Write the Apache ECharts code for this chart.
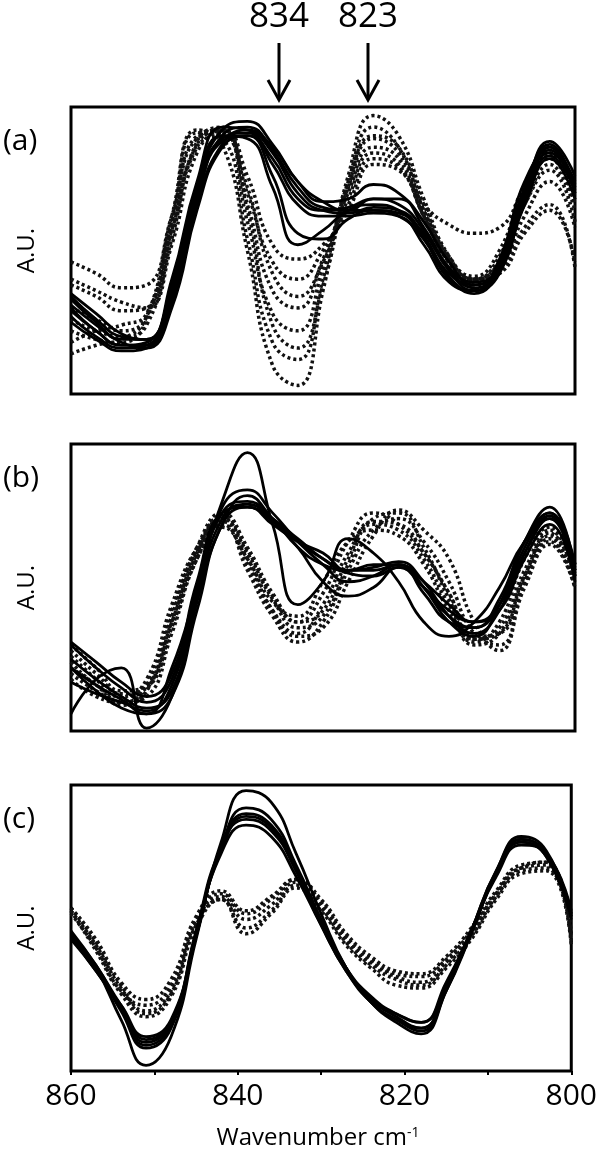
<!DOCTYPE html>
<html>
<head>
<meta charset="utf-8">
<script src="https://cdn.jsdelivr.net/npm/echarts@6/dist/echarts.min.js"></script>
<style>
  html, body { margin: 0; padding: 0; background: #fff; }
  #chart { width: 600px; height: 1150px; }
</style>
</head>
<body>
<div id="chart"></div>
<script>
// wavenumber grid shared by every spectrum (cm-1)
const waves = [860, 857, 854, 851, 848, 845, 842, 839, 836, 833, 830, 827, 824, 821, 818, 815, 812, 809, 806, 803, 800];

// panel (a)
const aSolid = [
  [30, 22, 17, 18, 38, 72, 92, 95, 87, 74, 67, 68, 73, 70, 60, 46, 38, 44, 70, 88, 76],
  [27, 20, 16, 17, 34, 68, 90, 93, 85, 72, 65, 64, 68, 66, 57, 43, 36, 42, 68, 86, 74],
  [33, 25, 19, 19, 40, 74, 93, 92, 84, 70, 64, 63, 65, 64, 55, 41, 35, 44, 72, 87, 72],
  [35, 28, 21, 19, 36, 70, 89, 91, 80, 66, 62, 62, 63, 62, 52, 39, 36, 47, 74, 85, 70],
  [25, 19, 15, 16, 32, 66, 87, 92, 86, 74, 67, 64, 64, 62, 54, 42, 38, 45, 70, 84, 73],
  [31, 24, 18, 16, 30, 64, 86, 90, 76, 56, 54, 61, 64, 63, 56, 44, 39, 44, 67, 83, 71],
  [34, 26, 20, 19, 38, 72, 90, 89, 72, 52, 57, 64, 66, 64, 54, 40, 36, 46, 71, 86, 70],
  [29, 22, 17, 17, 34, 68, 88, 90, 82, 68, 64, 65, 68, 68, 58, 44, 37, 43, 66, 82, 68]
];
const aDotted = [
  [14, 17, 19, 27, 62, 92, 87, 50, 10, 3, 36, 76, 97, 90, 68, 48, 40, 42, 56, 64, 46],
  [22, 19, 18, 26, 60, 91, 89, 54, 18, 12, 40, 74, 93, 86, 64, 46, 38, 42, 58, 66, 44],
  [30, 26, 22, 27, 58, 89, 91, 60, 28, 22, 44, 72, 89, 84, 64, 48, 40, 46, 66, 78, 60],
  [46, 42, 37, 38, 62, 90, 92, 66, 36, 30, 47, 70, 86, 82, 62, 47, 41, 50, 72, 84, 66],
  [38, 34, 29, 30, 57, 87, 92, 70, 46, 40, 50, 66, 82, 79, 66, 59, 56, 58, 72, 84, 68],
  [26, 22, 20, 24, 54, 88, 93, 76, 52, 47, 52, 64, 80, 78, 62, 46, 40, 46, 66, 80, 64],
  [18, 22, 24, 28, 56, 86, 90, 64, 24, 16, 38, 72, 90, 86, 66, 47, 40, 44, 62, 74, 58],
  [40, 36, 32, 30, 52, 84, 92, 72, 42, 34, 46, 68, 84, 80, 62, 46, 40, 48, 70, 82, 66]
];

// panel (b)
const bSolid = [
  [22, 14, 8, 6, 22, 50, 80, 97, 72, 44, 52, 67, 62, 52, 38, 33, 38, 50, 66, 74, 56],
  [6, 18, 22, 1, 12, 45, 72, 82, 74, 64, 58, 56, 58, 58, 48, 38, 36, 46, 66, 76, 58],
  [30, 22, 15, 10, 18, 50, 76, 80, 74, 66, 60, 56, 57, 59, 52, 40, 34, 42, 62, 75, 55],
  [25, 18, 12, 8, 14, 46, 74, 79, 74, 67, 60, 55, 54, 57, 50, 40, 36, 44, 64, 76, 57],
  [22, 16, 11, 6, 12, 42, 72, 78, 73, 64, 52, 47, 50, 57, 50, 42, 38, 44, 62, 74, 54],
  [17, 13, 10, 7, 16, 48, 78, 84, 76, 66, 58, 52, 54, 58, 50, 38, 33, 44, 66, 78, 56],
  [31, 24, 17, 12, 20, 52, 76, 78, 72, 66, 62, 56, 56, 58, 52, 44, 38, 42, 60, 72, 52]
];
const bDotted = [
  [30, 22, 14, 16, 38, 62, 74, 62, 46, 36, 40, 58, 74, 76, 64, 46, 30, 34, 54, 68, 54],
  [26, 18, 10, 12, 34, 60, 72, 58, 42, 34, 44, 62, 72, 70, 60, 44, 32, 36, 56, 70, 56],
  [22, 16, 9, 14, 40, 64, 76, 64, 48, 38, 48, 66, 76, 72, 62, 48, 33, 34, 52, 67, 52],
  [18, 12, 10, 16, 42, 63, 73, 56, 40, 31, 38, 56, 70, 74, 66, 52, 34, 30, 52, 66, 50],
  [28, 20, 13, 15, 36, 60, 71, 60, 45, 40, 52, 66, 70, 68, 58, 42, 31, 38, 60, 71, 58],
  [24, 16, 12, 18, 44, 64, 74, 60, 42, 33, 36, 52, 68, 77, 70, 60, 38, 28, 50, 65, 50],
  [20, 14, 10, 14, 38, 62, 75, 63, 47, 38, 42, 60, 73, 72, 62, 48, 32, 34, 54, 69, 54]
];

// panel (c)
const cSolid = [
  [48, 36, 18, 2, 12, 46, 80, 98, 94, 76, 55, 36, 24, 17, 13, 28, 49, 70, 82, 77, 55],
  [47, 36, 21, 8, 15, 47, 78, 92, 88, 72, 53, 36, 24, 18, 14, 28, 48, 69, 81, 76, 54],
  [46, 35, 22, 10, 17, 48, 78, 90, 86, 71, 52, 36, 25, 19, 15, 29, 48, 69, 80, 75, 54],
  [48, 37, 22, 9, 16, 47, 77, 89, 85, 70, 51, 35, 24, 18, 15, 29, 49, 70, 81, 76, 55],
  [47, 35, 23, 12, 18, 48, 76, 86, 82, 68, 51, 35, 25, 20, 17, 30, 49, 69, 80, 75, 53],
  [49, 37, 23, 11, 17, 49, 78, 88, 84, 70, 52, 36, 26, 20, 17, 31, 49, 68, 79, 76, 56]
];
const cDotted = [
  [57, 45, 30, 21, 28, 52, 61, 53, 58, 66, 58, 46, 38, 33, 31, 38, 48, 62, 71, 72, 46],
  [56, 44, 29, 20, 27, 51, 60, 50, 56, 65, 57, 45, 37, 32, 30, 37, 47, 61, 70, 71, 45],
  [55, 43, 28, 23, 30, 53, 62, 55, 60, 67, 59, 47, 39, 34, 33, 39, 49, 62, 71, 73, 47],
  [56, 42, 27, 19, 26, 50, 60, 48, 55, 64, 56, 44, 36, 30, 29, 36, 46, 60, 69, 70, 44],
  [57, 46, 31, 25, 32, 54, 63, 56, 61, 67, 60, 48, 40, 35, 34, 40, 50, 63, 72, 73, 48]
];

const panelLabels = ['(a)', '(b)', '(c)'];
const peakLabels = ['834', '823'];

const font = '"Open Sans", "Liberation Sans", sans-serif';
const panels = [
  { top: 107, height: 287, solid: aSolid, dotted: aDotted },
  { top: 444, height: 287, solid: bSolid, dotted: bDotted },
  { top: 785, height: 286, solid: cSolid, dotted: cDotted }
];

const grid = [], xAxis = [], yAxis = [], series = [];
panels.forEach((p, i) => {
  const last = i === panels.length - 1;
  grid.push({
    left: 71, width: 504, top: p.top, height: p.height,
    show: true, borderColor: '#000', borderWidth: 3, backgroundColor: 'transparent'
  });
  xAxis.push({
    gridIndex: i, type: 'value', min: 800, max: 860, interval: 10, inverse: true,
    axisLine: { show: false },
    splitLine: { show: false },
    axisTick: { show: last, length: 4, lineStyle: { color: '#000', width: 2 } },
    axisLabel: {
      show: last, margin: 10, fontSize: 30, color: '#000', fontFamily: font,
      formatter: v => (v % 20 === 0 ? String(v) : '')
    }
  });
  yAxis.push({
    gridIndex: i, type: 'value', min: 0, max: 100,
    axisLine: { show: false }, axisTick: { show: false },
    axisLabel: { show: false }, splitLine: { show: false }
  });
  const add = (list, dotted) => list.forEach(vals => {
    series.push({
      type: 'line', xAxisIndex: i, yAxisIndex: i,
      data: waves.map((w, k) => [w, vals[k]]),
      smooth: 0.5, symbol: 'none', silent: true,
      lineStyle: dotted
        ? { color: '#111', width: 3.5, type: [3, 3] }
        : { color: '#000', width: 2.8 }
    });
  });
  add(p.dotted, true);
  add(p.solid, false);
});

const graphic = [];
panels.forEach((p, i) => {
  graphic.push({
    type: 'text', left: 3, top: p.top + 19,
    style: { text: panelLabels[i], font: '30px ' + font, fill: '#000' }
  });
  graphic.push({
    type: 'text', x: 27, y: p.top + p.height / 2, rotation: Math.PI / 2,
    style: { text: 'A.U.', font: '24px ' + font, fill: '#000', align: 'center', verticalAlign: 'middle' }
  });
});
// arrows over panel (a)
[279, 368].forEach((x, i) => {
  graphic.push({
    type: 'text', x: x, y: 17,
    style: { text: peakLabels[i], font: '35px ' + font, fill: '#000', align: 'center', verticalAlign: 'middle' }
  });
  graphic.push({
    type: 'line', shape: { x1: x, y1: 43, x2: x, y2: 99 },
    style: { stroke: '#000', lineWidth: 3 }
  });
  graphic.push({
    type: 'polyline', shape: { points: [[x - 11, 80], [x, 100], [x + 11, 80]] },
    style: { stroke: '#000', lineWidth: 3, fill: null }
  });
});
// x axis title with superscript
graphic.push({
  type: 'text', x: 318, y: 1138,
  style: {
    text: 'Wavenumber cm{sup|-1}',
    font: '24px ' + font, fill: '#000', align: 'center', verticalAlign: 'middle',
    rich: { sup: { fontSize: 14, fontFamily: font, fill: '#000', verticalAlign: 'top', padding: [0, 0, 10, 0] } }
  }
});

const chart = echarts.init(document.getElementById('chart'), null, { renderer: 'canvas' });
chart.setOption({
  animation: false,
  backgroundColor: '#fff',
  grid: grid,
  xAxis: xAxis,
  yAxis: yAxis,
  series: series,
  graphic: graphic
});
</script>
</body>
</html>
